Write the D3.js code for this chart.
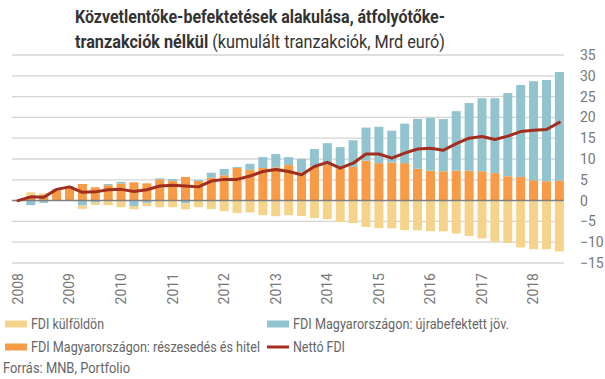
<!DOCTYPE html>
<html>
<head>
<meta charset="utf-8">
<script src="https://cdn.jsdelivr.net/npm/d3@7"></script>
<style>
  html, body { margin: 0; padding: 0; background: #fff; }
  svg { display: block; font-family: Roboto, "Noto Sans", sans-serif; }
</style>
</head>
<body>
<div id="chart"></div>
<script>
// Quarterly categories, 2008 Q1 .. 2018 Q3
const years = d3.range(2008, 2019);
const quarters = [];
years.forEach(y => [1, 2, 3, 4].forEach(q => { if (y < 2018 || q <= 3) quarters.push(`${y} Q${q}`); }));

// FDI Magyarországon: részesedés és hitel
const equityLoans = [0, 1.2, 1.4, 2.5, 3.3, 4.0, 3.2, 3.7, 4.1, 4.4, 4.15, 5.1, 4.75, 5.7, 4.75, 5.5,
  6.1, 7.85, 7.4, 7.85, 8.0, 8.55, 6.8, 8.25, 8.55, 7.7, 8.1, 9.6, 9.0, 9.1, 9.0, 7.65,
  7.2, 7.05, 7.2, 7.2, 7.05, 6.6, 5.85, 5.7, 4.9, 4.65, 4.75];
// FDI Magyarországon: újrabefektetett jövedelem
const reinvested = [0, -1.1, -0.55, 0.25, 0.2, -1.2, -0.45, 0.3, 0.4, -1.3, -0.55, 0.25, 0.45, -0.65, 0.25, 1.2,
  1.5, 0.25, 1.45, 2.6, 3.2, 1.9, 3.2, 4.15, 5.25, 5.15, 6.4, 7.95, 8.75, 7.7, 9.5, 12.0,
  12.7, 12.55, 14.3, 16.25, 17.55, 18.0, 20.0, 22.1, 23.8, 24.35, 26.15];
// FDI külföldön
const abroad = [0, 0.8, 0.35, 0, 0, -0.8, -0.6, -1.1, -1.6, -0.8, -0.8, -1.6, -1.6, -1.45, -1.6, -2.05,
  -2.55, -3.0, -2.85, -3.5, -3.75, -3.5, -3.7, -4.2, -4.45, -5.15, -5.4, -6.35, -6.6, -6.65, -7.1, -7.15,
  -7.35, -7.4, -7.9, -8.5, -9.1, -9.9, -10.2, -11.25, -11.7, -11.7, -12.2];
// Nettó FDI
const netFdi = [0, 0.9, 0.8, 2.7, 3.3, 2.0, 2.1, 2.6, 2.7, 2.2, 2.6, 3.5, 3.7, 3.5, 3.3, 4.7,
  5.1, 5.1, 5.9, 7.0, 7.5, 7.0, 6.2, 8.2, 9.2, 7.8, 9.0, 11.2, 11.2, 10.2, 11.4, 12.4,
  12.6, 12.1, 13.7, 15.0, 15.4, 14.7, 15.5, 16.6, 16.9, 17.1, 18.8];

const yTicks = [35, 30, 25, 20, 15, 10, 5, 0, -5, -10, -15];

const colors = {
  abroad: '#f5d38b',
  reinvested: '#92c4cf',
  equityLoans: '#f79b47',
  net: '#a12e1e'
};

const width = 605, height = 379;
const svg = d3.select('#chart').append('svg')
  .attr('width', width).attr('height', height);

// Title
const title = svg.append('g').attr('fill', '#333');
title.append('text')
  .attr('x', 260).attr('y', 22.5).attr('text-anchor', 'middle')
  .attr('font-size', 18).attr('font-weight', 'bold')
  .attr('textLength', 370).attr('lengthAdjust', 'spacingAndGlyphs')
  .text('Közvetlentőke-befektetések alakulása, átfolyótőke-');
const t2 = title.append('text')
  .attr('x', 260).attr('y', 47.5).attr('text-anchor', 'middle')
  .attr('font-size', 18)
  .attr('textLength', 370).attr('lengthAdjust', 'spacingAndGlyphs');
t2.append('tspan').attr('font-weight', 'bold').text('tranzakciók nélkül');
t2.append('tspan').text(' (kumulált tranzakciók, Mrd euró)');

// Scales
const x = d3.scaleBand().domain(quarters).range([11.5, 565.8])
  .paddingInner(0.3).paddingOuter(0.15);
const y = d3.scaleLinear().domain([-15, 35]).range([263, 55]);

// Grid
svg.append('g').selectAll('line')
  .data(yTicks.filter(d => d !== 0))
  .join('line')
  .attr('x1', 12).attr('x2', 564)
  .attr('y1', d => y(d)).attr('y2', d => y(d))
  .attr('stroke', '#d4d4d4').attr('stroke-width', 1.3);

// Right axis labels
const yAxis = svg.append('g')
  .attr('transform', 'translate(572,0)')
  .call(d3.axisRight(y).tickValues(yTicks).tickSize(0).tickPadding(8));
yAxis.select('.domain').remove();
yAxis.selectAll('text')
  .attr('font-family', 'Roboto, sans-serif')
  .attr('font-size', 14).attr('fill', '#777');

// Stacked bars (diverging)
const rows = quarters.map((q, i) => ({
  q, equityLoans: equityLoans[i], reinvested: reinvested[i], abroad: abroad[i]
}));
const keys = ['equityLoans', 'reinvested', 'abroad'];
const series = d3.stack().keys(keys).offset(d3.stackOffsetDiverging)(rows);

svg.append('g').selectAll('g')
  .data(series)
  .join('g')
  .attr('fill', s => colors[s.key])
  .selectAll('rect')
  .data(s => s)
  .join('rect')
  .attr('x', d => x(d.data.q))
  .attr('width', x.bandwidth())
  .attr('y', d => y(Math.max(d[0], d[1])))
  .attr('height', d => Math.abs(y(d[0]) - y(d[1])));

// Zero line
svg.append('line')
  .attr('x1', 12).attr('x2', 564)
  .attr('y1', y(0)).attr('y2', y(0))
  .attr('stroke', '#7f7f7f').attr('stroke-width', 1.5);

// Net FDI line
const line = d3.line()
  .x((d, i) => x(quarters[i]) + x.bandwidth() / 2)
  .y(d => y(d));
svg.append('path')
  .datum(netFdi)
  .attr('d', line)
  .attr('fill', 'none')
  .attr('stroke', colors.net)
  .attr('stroke-width', 3)
  .attr('stroke-linejoin', 'round')
  .attr('stroke-linecap', 'round');

// X axis year labels (rotated)
const xAxis = svg.append('g')
  .attr('transform', 'translate(0,268)')
  .call(d3.axisBottom(x)
    .tickValues(quarters.filter(q => q.endsWith('Q1')))
    .tickFormat(q => q.slice(0, 4))
    .tickSize(0));
xAxis.select('.domain').remove();
xAxis.selectAll('text')
  .attr('font-family', 'Roboto, sans-serif')
  .attr('font-size', 14).attr('fill', '#777')
  .attr('text-anchor', 'end')
  .attr('dy', '0.35em')
  .attr('transform', 'rotate(-90)')
  .attr('x', -5).attr('y', 0);

// Legend
const legendItems = [
  { key: 'abroad', label: 'FDI külföldön', x: 5, y: 324, type: 'rect', w: 73 },
  { key: 'reinvested', label: 'FDI Magyarországon: újrabefektett jöv.', x: 267, y: 324, type: 'rect', w: 216 },
  { key: 'equityLoans', label: 'FDI Magyarországon: részesedés és hitel', x: 5, y: 347, type: 'rect', w: 229 },
  { key: 'net', label: 'Nettó FDI', x: 267, y: 347, type: 'line', w: 52 }
];
const legend = svg.append('g');
legendItems.forEach(it => {
  if (it.type === 'rect') {
    legend.append('rect')
      .attr('x', it.x).attr('y', it.y - 3.5)
      .attr('width', 22).attr('height', 7)
      .attr('fill', colors[it.key]);
  } else {
    legend.append('line')
      .attr('x1', it.x).attr('x2', it.x + 22)
      .attr('y1', it.y).attr('y2', it.y)
      .attr('stroke', colors[it.key]).attr('stroke-width', 3);
  }
  legend.append('text')
    .attr('x', it.x + 26).attr('y', it.y + 4.5)
    .attr('font-size', 14).attr('fill', '#666')
    .attr('textLength', it.w).attr('lengthAdjust', 'spacingAndGlyphs')
    .text(it.label);
});

// Source
svg.append('text')
  .attr('x', 3).attr('y', 372.5)
  .attr('font-size', 14).attr('fill', '#666')
  .attr('textLength', 127).attr('lengthAdjust', 'spacingAndGlyphs')
  .text('Forrás: MNB, Portfolio');
</script>
</body>
</html>
